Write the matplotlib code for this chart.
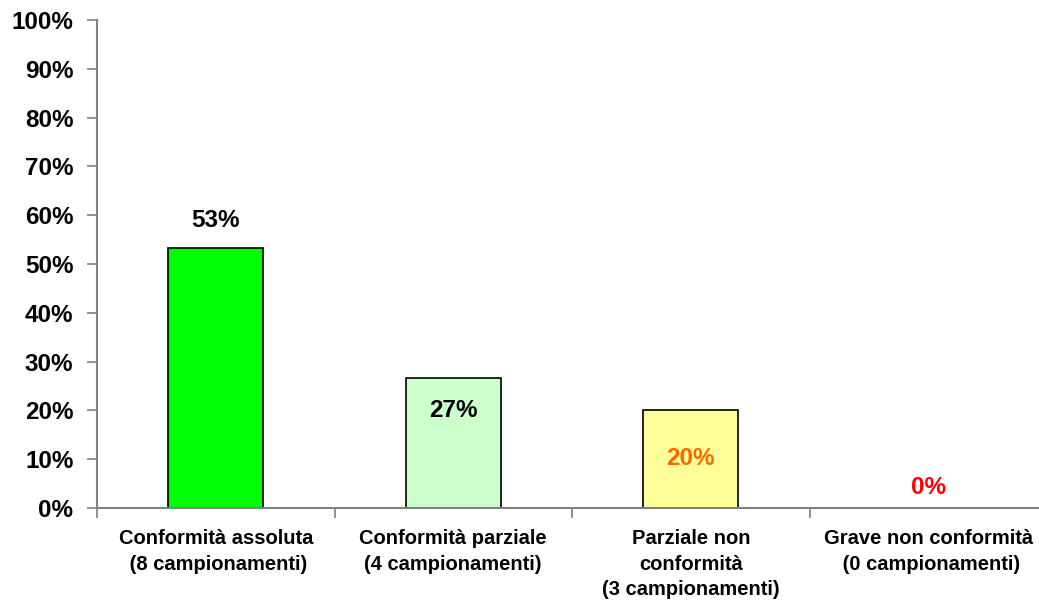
import numpy as np
import matplotlib
matplotlib.use('Agg')
import matplotlib.pyplot as plt
import matplotlib.ticker as ticker

# dati
categorie = ['Conformità assoluta\n (8 campionamenti)',
             'Conformità parziale\n(4 campionamenti)',
             'Parziale non\nconformità\n(3 campionamenti)',
             'Grave non conformità\n (0 campionamenti)']
valori = [53.3, 26.7, 20.0, 0.0]
etichette = ['53%', '27%', '20%', '0%']

# stile
colori_barre = ['#00FF00', '#CCFFCC', '#FFFF99', '#FFFFFF']
colori_testo = ['black', 'black', '#FF6600', '#FF0000']
offset_etichette = [5.7, -6.7, -9.8, 4.3]

plt.rcParams['font.family'] = ['Liberation Sans', 'DejaVu Sans']
plt.rcParams['font.weight'] = 'bold'

fig = plt.figure(figsize=(10.39, 6.0), dpi=100)
ax = fig.add_axes([97/1039, 1-508/600, 950/1039, 488/600])

x = np.arange(len(valori)) + 0.5
ax.bar(x, valori, width=0.4, color=colori_barre, edgecolor='black', linewidth=1.2, zorder=2)

for xi, v, t, c, o in zip(x, valori, etichette, colori_testo, offset_etichette):
    ax.text(xi, v + o, t, ha='center', va='center', fontsize=17.5, fontweight='bold', color=c)

ax.set_xlim(0, 4)
ax.set_ylim(0, 100)
ax.yaxis.set_major_locator(ticker.MultipleLocator(10))
ax.yaxis.set_major_formatter(ticker.FuncFormatter(lambda v, p: f'{int(v)}%'))
ax.set_xticks([0, 1, 2, 3, 4])
ax.set_xticklabels([])
ax.set_xticks(x, minor=True)
ax.set_xticklabels(categorie, minor=True, fontsize=14.5, fontweight='bold',
                   linespacing=1.45, va='top', ha='center')

ax.tick_params(axis='y', labelsize=17.5, length=7, width=1.2, color='#808080', pad=10)
ax.tick_params(axis='x', which='major', length=7, width=1.2, color='#808080')
ax.tick_params(axis='x', which='minor', length=0, pad=15)

for s in ['top', 'right']:
    ax.spines[s].set_visible(False)
for s in ['left', 'bottom']:
    ax.spines[s].set_color('#808080')
    ax.spines[s].set_linewidth(1.5)

plt.savefig('out.png', dpi=100)
plt.close()
